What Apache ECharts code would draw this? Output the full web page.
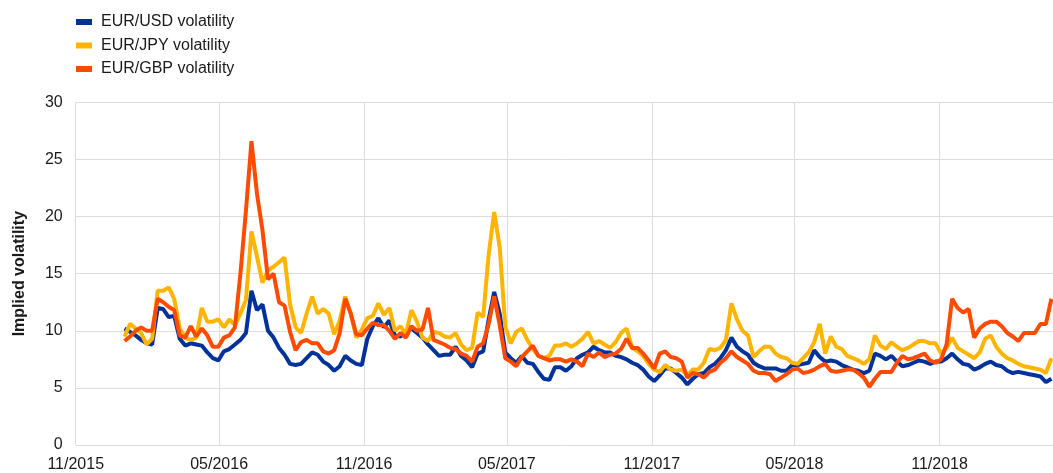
<!DOCTYPE html>
<html><head><meta charset="utf-8">
<script src="https://cdn.jsdelivr.net/npm/echarts@6/dist/echarts.min.js"></script>
<style>html,body{margin:0;padding:0;background:#fff}#chart{width:1053px;height:473px}</style>
</head><body><div id="chart"></div>
<script>
// weekly observations starting 2 Jan 2016
const startDate = [2016, 0, 2];
const stepDays = 7;

const seriesNames = ['EUR/USD volatility', 'EUR/JPY volatility', 'EUR/GBP volatility'];

const usd = [
10.2, 9.9, 9.6, 9.2, 8.9, 8.8, 12.0, 11.9, 11.2, 11.3,
9.3, 8.7, 8.9, 8.8, 8.7, 8.1, 7.6, 7.4, 8.2, 8.4,
8.8, 9.2, 9.8, 13.5, 11.8, 12.3, 10.0, 9.4, 8.5, 7.9,
7.1, 7.0, 7.1, 7.6, 8.1, 7.9, 7.3, 7.0, 6.5, 6.9,
7.8, 7.4, 7.1, 7.0, 9.3, 10.4, 11.1, 10.3, 10.9, 9.6,
9.5, 9.9, 10.2, 9.8, 9.4, 8.8, 8.3, 7.8, 7.9, 7.9,
8.6, 7.8, 7.4, 6.8, 8.0, 8.2, 11.0, 13.4, 11.5, 8.1,
7.6, 7.2, 7.8, 7.2, 7.1, 6.4, 5.8, 5.7, 6.8, 6.8,
6.5, 6.9, 7.6, 7.9, 8.1, 8.6, 8.3, 8.1, 8.1, 7.8,
7.7, 7.5, 7.2, 7.0, 6.6, 6.0, 5.6, 6.1, 6.7, 6.7,
6.3, 5.9, 5.3, 5.8, 6.2, 6.3, 6.8, 7.1, 7.6, 8.3,
9.4, 8.6, 8.2, 7.9, 7.2, 6.9, 6.7, 6.7, 6.7, 6.5,
6.5, 7.0, 7.0, 7.1, 7.2, 8.3, 7.7, 7.3, 7.4, 7.3,
7.0, 6.8, 6.6, 6.5, 6.3, 6.5, 8.0, 7.8, 7.5, 7.8,
7.3, 6.9, 7.0, 7.2, 7.4, 7.3, 7.1, 7.3, 7.3, 7.6,
8.0, 7.5, 7.1, 7.0, 6.6, 6.8, 7.1, 7.3, 7.0, 6.9,
6.5, 6.3, 6.4, 6.3, 6.2, 6.1, 6.0, 5.5, 5.8
];

const jpy = [
9.5, 10.6, 10.2, 9.8, 8.8, 9.3, 13.5, 13.5, 13.8, 12.8,
10.2, 9.4, 9.2, 9.4, 12.0, 10.8, 10.8, 11.0, 10.3, 11.0,
10.5, 11.5, 12.7, 18.7, 16.5, 14.2, 15.3, 15.6, 16.0, 16.4,
12.3, 10.3, 9.8, 11.5, 13.0, 11.5, 11.9, 11.5, 9.7, 10.9,
13.0, 11.5, 9.4, 10.1, 11.1, 11.3, 12.4, 11.4, 12.0, 10.0,
10.4, 9.7, 11.8, 10.8, 9.4, 9.1, 9.9, 9.8, 9.5, 9.4,
9.8, 8.8, 8.3, 8.5, 11.6, 11.2, 16.7, 20.4, 17.3, 10.4,
8.9, 9.9, 10.2, 9.2, 8.4, 7.8, 7.6, 7.8, 8.7, 8.7,
8.9, 8.6, 8.9, 9.3, 9.9, 8.9, 9.1, 8.8, 8.5, 9.0,
9.8, 10.2, 8.5, 8.2, 7.8, 7.1, 6.6, 6.4, 7.0, 6.6,
6.5, 6.6, 6.1, 6.6, 6.6, 7.2, 8.4, 8.3, 8.5, 9.2,
12.4, 11.0, 10.0, 9.6, 7.7, 8.2, 8.6, 8.6, 8.0, 7.7,
7.6, 7.2, 7.1, 7.6, 8.1, 9.0, 10.6, 8.0, 9.5, 8.6,
8.4, 7.8, 7.6, 7.4, 7.1, 7.5, 9.6, 8.7, 8.4, 9.0,
8.6, 8.3, 8.5, 8.8, 9.1, 9.1, 8.9, 8.9, 8.0, 8.5,
9.4, 8.5, 8.2, 7.9, 7.6, 8.1, 9.3, 9.6, 8.6, 8.0,
7.6, 7.4, 7.1, 6.9, 6.8, 6.7, 6.6, 6.3, 7.6
];

const gbp = [
9.1, 9.5, 10.0, 10.3, 10.0, 10.0, 12.8, 12.5, 12.1, 11.8,
9.6, 9.4, 10.4, 9.5, 10.2, 9.6, 8.6, 8.6, 9.4, 9.6,
10.3, 15.0, 20.5, 26.6, 22.0, 18.8, 14.5, 15.0, 12.5, 12.2,
9.9, 8.3, 9.0, 9.2, 8.9, 8.9, 8.2, 8.0, 8.3, 9.8,
12.8, 11.5, 9.7, 9.6, 10.2, 10.7, 10.5, 10.5, 10.0, 9.3,
9.8, 9.4, 10.4, 10.0, 10.1, 12.0, 9.2, 9.0, 8.8, 8.5,
8.4, 8.0, 7.8, 7.3, 8.6, 8.9, 10.6, 13.0, 10.5, 7.6,
7.3, 6.9, 7.7, 8.2, 8.7, 7.8, 7.6, 7.4, 7.5, 7.5,
7.3, 7.5, 7.3, 6.9, 8.0, 7.7, 8.1, 7.7, 7.9, 8.0,
8.4, 9.3, 8.5, 8.5, 8.0, 7.4, 6.7, 8.0, 8.2, 7.7,
7.6, 7.3, 5.9, 6.3, 6.2, 5.9, 6.4, 6.6, 7.2, 7.6,
8.2, 7.7, 7.4, 7.1, 6.5, 6.3, 6.3, 6.2, 5.6, 5.9,
6.2, 6.6, 6.7, 6.3, 6.4, 6.6, 6.9, 7.1, 6.5, 6.4,
6.5, 6.6, 6.6, 6.3, 5.9, 5.1, 5.8, 6.4, 6.4, 6.4,
7.2, 7.8, 7.5, 7.6, 7.8, 8.0, 7.4, 7.2, 7.5, 8.8,
12.8, 12.0, 11.6, 11.9, 9.4, 10.2, 10.6, 10.8, 10.8, 10.4,
9.8, 9.5, 9.1, 9.8, 9.8, 9.8, 10.6, 10.6, 12.8
];

// axis ticks: [year, monthIndex]
const tickMonths = [[2015,10],[2016,4],[2016,10],[2017,4],[2017,10],[2018,4],[2018,10]];
const axisStart = [2015, 10, 1];
const axisEnd = [2019, 2, 25];

const colors = ['#003299', '#ffb400', '#ff4b00'];

function ts(y, m, d) { return new Date(y, m, d).getTime(); }
const t0 = ts(startDate[0], startDate[1], startDate[2]);
function pairs(vals) {
  return vals.map((v, i) => [t0 + i * stepDays * 86400000, v]);
}
const tickValues = tickMonths.map(t => ts(t[0], t[1], 1));

const chart = echarts.init(document.getElementById('chart'), null, {renderer: 'canvas'});
chart.setOption({
  animation: false,
  color: colors,
  textStyle: {fontFamily: 'Liberation Sans, Arial, sans-serif'},
  legend: {
    orient: 'vertical', left: 71, top: 9,
    itemWidth: 16, itemHeight: 6, itemGap: 7.5,
    icon: 'rect',
    textStyle: {fontSize: 16, color: '#1a1a1a', padding: [0, 0, 0, 4]},
    data: seriesNames
  },
  grid: {left: 75.7, right: 0, top: 102.3, bottom: 27.7, containLabel: false},
  xAxis: {
    type: 'value',
    min: ts(axisStart[0], axisStart[1], axisStart[2]),
    max: ts(axisEnd[0], axisEnd[1], axisEnd[2]),
    axisLine: {show: false},
    axisTick: {show: false, customValues: tickValues},
    splitLine: {show: true, lineStyle: {color: '#dcdcdc', width: 1}},
    axisLabel: {
      customValues: tickValues,
      fontSize: 16, color: '#1a1a1a', margin: 12,
      formatter: function (v) {
        const d = new Date(v);
        const m = d.getMonth() + 1;
        return (m < 10 ? '0' + m : '' + m) + '/' + d.getFullYear();
      }
    }
  },
  yAxis: {
    type: 'value', min: 0, max: 30, interval: 5,
    name: 'Implied volatility', nameLocation: 'middle', nameGap: 48,
    nameTextStyle: {fontWeight: 'bold', fontSize: 16, color: '#1a1a1a'},
    axisLine: {show: false}, axisTick: {show: false},
    axisLabel: {fontSize: 16, color: '#1a1a1a', margin: 13},
    splitLine: {lineStyle: {color: '#dcdcdc', width: 1}}
  },
  series: [
    {name: seriesNames[0], type: 'line', data: pairs(usd), showSymbol: false, lineStyle: {width: 4}},
    {name: seriesNames[1], type: 'line', data: pairs(jpy), showSymbol: false, lineStyle: {width: 4}},
    {name: seriesNames[2], type: 'line', data: pairs(gbp), showSymbol: false, lineStyle: {width: 4}}
  ]
});
</script>
</body></html>
